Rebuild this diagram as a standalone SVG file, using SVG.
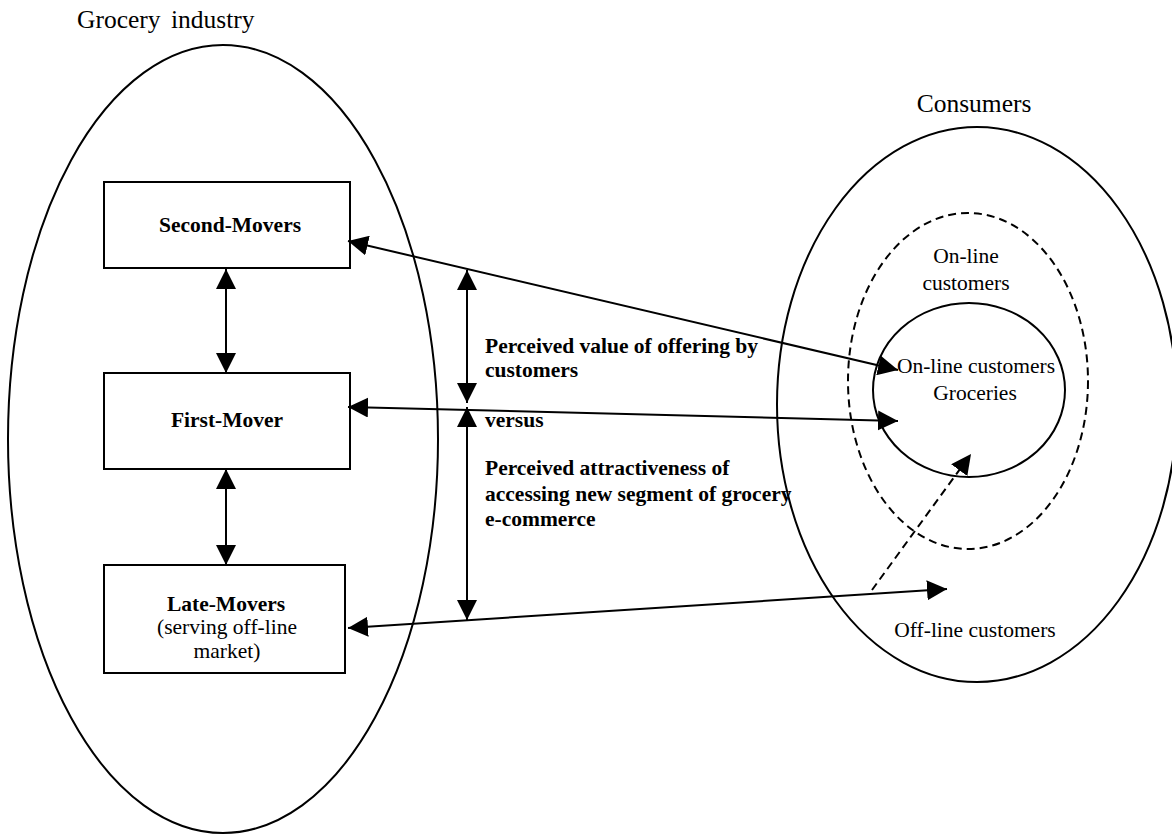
<svg xmlns="http://www.w3.org/2000/svg" width="1172" height="834" viewBox="0 0 1172 834">
<style>
.shape{fill:none;stroke:#000;stroke-width:2}
.dash{fill:none;stroke:#000;stroke-width:2;stroke-dasharray:8,5}
.t{font-family:"Liberation Serif","Times New Roman",serif;font-size:21.5px;fill:#000}
.b{font-weight:bold}
.title{font-size:25.5px}
.conn line{stroke:#000;stroke-width:2}
</style>
<defs>
<marker id="ah" viewBox="0 0 20 20" refX="20" refY="10" markerWidth="20" markerHeight="20" markerUnits="userSpaceOnUse" orient="auto-start-reverse">
<path d="M0,0 L20,10 L0,20 z" fill="#000"/>
</marker>
</defs>
<rect width="1172" height="834" fill="#fff"/>

<g id="grocery-industry">
<ellipse class="shape" cx="223" cy="439" rx="215" ry="394"/>
<text class="t title" x="77" y="28" word-spacing="4">Grocery industry</text>
</g>

<g id="consumers">
<ellipse class="shape" cx="977" cy="404.5" rx="200" ry="277.5"/>
<text class="t title" x="974" y="112" text-anchor="middle">Consumers</text>
</g>

<g id="online-customers">
<ellipse class="dash" cx="968" cy="381" rx="120" ry="168"/>
<text class="t" x="966" y="263" text-anchor="middle">On-line</text>
<text class="t" x="966" y="290" text-anchor="middle">customers</text>
</g>

<g id="online-groceries">
<ellipse class="shape" cx="969" cy="390" rx="96" ry="87"/>
<text class="t" x="976" y="373" text-anchor="middle">On-line customers</text>
<text class="t" x="975" y="400" text-anchor="middle">Groceries</text>
</g>

<g id="offline-customers">
<text class="t" x="975" y="637" text-anchor="middle">Off-line customers</text>
</g>

<g id="second-movers">
<rect class="shape" x="104" y="182" width="246" height="86"/>
<text class="t b" x="230" y="232" text-anchor="middle">Second-Movers</text>
</g>

<g id="first-mover">
<rect class="shape" x="104" y="373" width="246" height="96"/>
<text class="t b" x="227" y="427" text-anchor="middle">First-Mover</text>
</g>

<g id="late-movers">
<rect class="shape" x="104" y="565" width="241" height="108"/>
<text class="t b" x="226" y="611" text-anchor="middle">Late-Movers</text>
<text class="t" x="227" y="634" text-anchor="middle">(serving off-line</text>
<text class="t" x="227" y="658" text-anchor="middle">market)</text>
</g>

<g id="tradeoff-label">
<text class="t b" x="485" y="353">Perceived value of offering by</text>
<text class="t b" x="485" y="377">customers</text>
<text class="t b" x="485" y="427">versus</text>
<text class="t b" x="485" y="475">Perceived attractiveness of</text>
<text class="t b" x="485" y="501">accessing new segment of grocery</text>
<text class="t b" x="485" y="526">e-commerce</text>
</g>

<g id="connectors" class="conn">
<line x1="226" y1="269" x2="226" y2="373" marker-start="url(#ah)" marker-end="url(#ah)"/>
<line x1="226" y1="469" x2="226" y2="565" marker-start="url(#ah)" marker-end="url(#ah)"/>
<line x1="348" y1="241" x2="898" y2="370" marker-start="url(#ah)" marker-end="url(#ah)"/>
<line x1="348" y1="407" x2="898" y2="421" marker-start="url(#ah)" marker-end="url(#ah)"/>
<line x1="348" y1="628" x2="947" y2="589" marker-start="url(#ah)" marker-end="url(#ah)"/>
<line x1="467" y1="270" x2="467" y2="403" marker-start="url(#ah)" marker-end="url(#ah)"/>
<line x1="467" y1="407" x2="467" y2="620" marker-start="url(#ah)" marker-end="url(#ah)"/>
<line x1="872" y1="590" x2="971" y2="454" style="stroke-dasharray:8,5" marker-end="url(#ah)"/>
</g>
</svg>
